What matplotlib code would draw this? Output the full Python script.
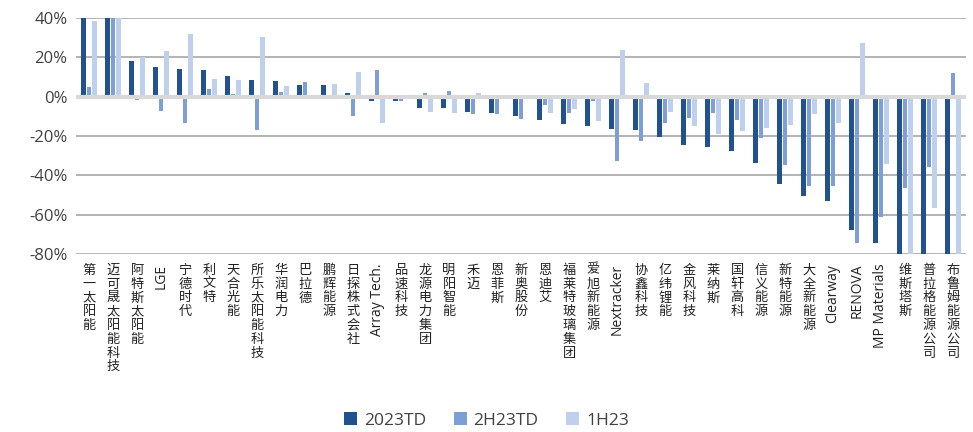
import numpy as np
import matplotlib.pyplot as plt

plt.rcParams['font.family'] = ['Open Sans', 'Noto Sans CJK SC', 'DejaVu Sans']

companies = ["第一太阳能", "迈可晟太阳能科技", "阿特斯太阳能", "LGE", "宁德时代", "利文特", "天合光能",
             "所乐太阳能科技", "华润电力", "巴拉德", "鹏辉能源", "日探株式会社", "Array Tech.", "品速科技",
             "龙源电力集团", "明阳智能", "禾迈", "恩菲斯", "新奥股份", "恩迪艾", "福莱特玻璃集团", "爱旭新能源",
             "Nextracker", "协鑫科技", "亿纬锂能", "金风科技", "莱纳斯", "国轩高科", "信义能源", "新特能源",
             "大全新能源", "Clearway", "RENOVA", "MP Materials", "维斯塔斯", "普拉格能源公司", "布鲁姆能源公司"]

# % change, values past the axis range are clipped in the original
ytd_2023 = [60, 60, 18.3, 14.9, 14.2, 13.5, 10.6, 8.5, 7.9, 6.2, 6.2, 2.0, -2.0, -2.0, -5.7, -5.7, -7.7,
            -8.5, -9.9, -11.9, -14.0, -14.9, -16.2, -16.8, -20.3, -24.6, -25.8, -27.4, -33.7, -44.3, -50.6,
            -52.8, -67.7, -74.5, -90, -90, -90]
ytd_2h23 = [4.8, 60, -1.4, -7.0, -13.5, 3.8, 1.4, -16.9, 2.2, 7.5, 0, -10.0, 13.5, -2.0, 2.0, 2.7, -9.0,
            -9.0, -11.2, -4.0, -8.5, -2.2, -32.5, -22.6, -13.3, -11.0, -8.5, -11.6, -20.9, -34.9, -45.6,
            -45.6, -74.5, -61.2, -46.5, -35.6, 12.1]
h1_23 = [38.8, 60, 20.0, 23.4, 32.0, 9.2, 8.5, 30.4, 5.5, 0, 6.7, 12.7, -13.4, 0, -7.7, -8.5, 2.0,
         0, 0, -8.5, -6.0, -12.5, 24.0, 7.2, -7.7, -14.9, -18.8, -17.6, -15.9, -14.2, -9.0,
         -13.3, 27.4, -34.4, -90, -56.4, -90]

yticks = [40, 20, 0, -20, -40, -60, -80]

fig = plt.figure(figsize=(9.73, 4.32), dpi=100)
ax = fig.add_axes([0.078, 0.412, 0.915, 0.546])

x = np.arange(len(companies))
w = 0.19
off = 0.23
ax.bar(x - off, ytd_2023, w, color='#22518F', label='2023TD', zorder=2)
ax.bar(x, ytd_2h23, w, color='#7E9ED6', label='2H23TD', zorder=2)
ax.bar(x + off, h1_23, w, color='#BFD0EC', label='1H23', zorder=2)

ax.set_ylim(-80, 40)
ax.set_xlim(-0.55, len(companies) - 0.45)
ax.set_yticks(yticks)
ax.set_yticklabels([f"{t}%" for t in yticks], fontsize=12, color='#404040')
for t in yticks:
    if t != 0:
        ax.axhline(t, color='#B3B3B3', lw=1.4, zorder=1)
ax.axhline(0, color='#D9D9D9', lw=3, zorder=3)

labels = []
for c in companies:
    if c.isascii():
        labels.append(c)
    else:
        labels.append("\n".join(c))
ax.set_xticks(x)
ax.set_xticklabels(labels, fontsize=9.5, color='#222222', linespacing=1.08)
for lab, c in zip(ax.get_xticklabels(), companies):
    if c.isascii():
        lab.set_rotation(90)
        lab.set_fontsize(10)
        lab.set_family(['Open Sans', 'DejaVu Sans'])
    else:
        lab.set_family(['Noto Sans CJK SC', 'DejaVu Sans'])

ax.tick_params(length=0, pad=6)
ax.tick_params(axis='x', pad=7)
for s in ax.spines.values():
    s.set_visible(False)

fig.legend(loc='center', bbox_to_anchor=(0.5, 0.027), ncol=3, frameon=False, fontsize=12.5,
           handlelength=0.75, handleheight=0.75, columnspacing=1.6, handletextpad=0.4,
           labelcolor='#404040')

fig.savefig('out.png', dpi=100)
